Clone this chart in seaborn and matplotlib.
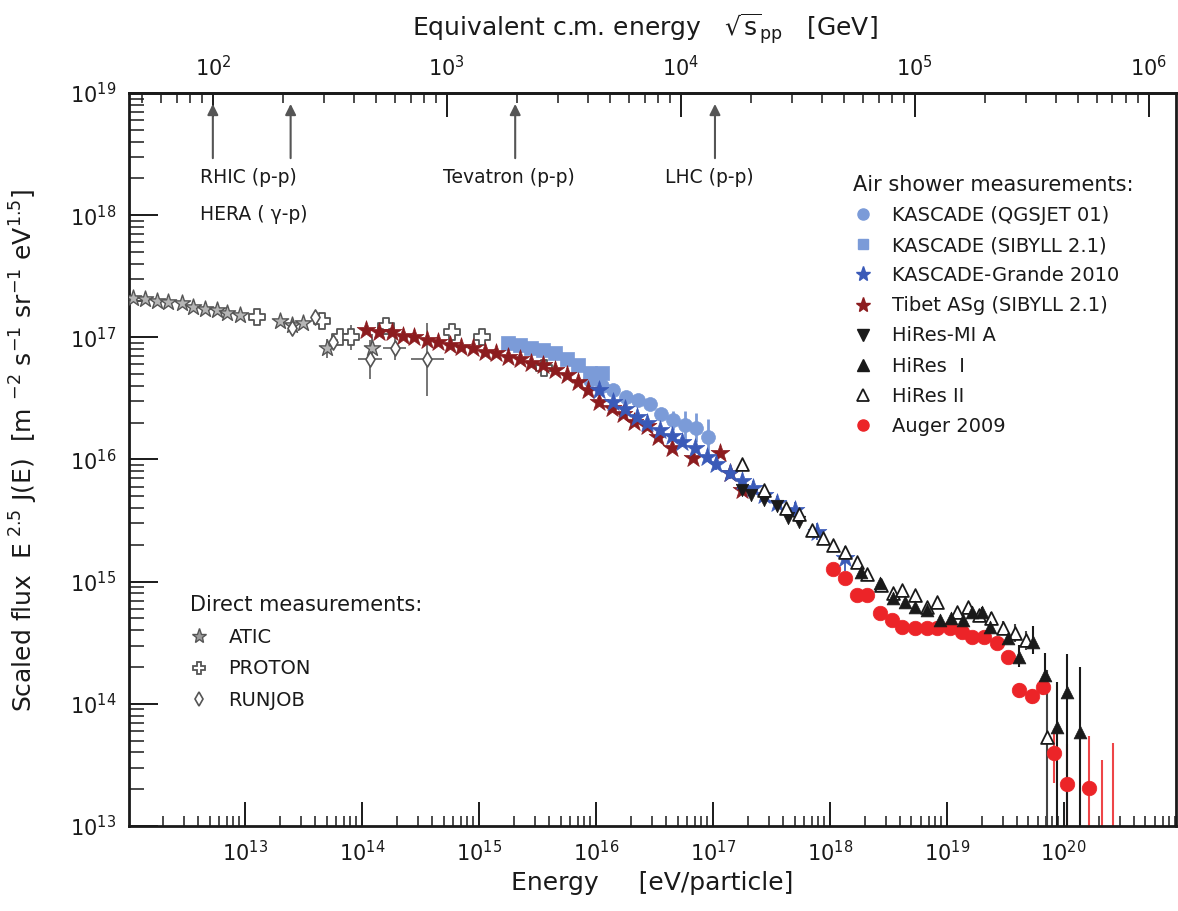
import matplotlib
matplotlib.use("Agg")
import matplotlib.pyplot as plt
from matplotlib.lines import Line2D
from matplotlib.ticker import FixedLocator, LogLocator, NullFormatter
import numpy as np
import pandas as pd
import seaborn as sns

# values: log10(E / eV) and log10(E^2.5 J(E))
# ---- direct measurements ----
atic_logE = [12.04, 12.15, 12.25, 12.34, 12.46, 12.56, 12.66, 12.76, 12.85, 12.96, 13.30, 13.40, 13.50, 13.70, 14.09]
atic_logF = [17.32, 17.31, 17.30, 17.29, 17.28, 17.25, 17.23, 17.22, 17.20, 17.18, 17.13, 17.10, 17.12, 16.91, 16.91]
atic_err = [0.02, 0.02, 0.02, 0.02, 0.02, 0.02, 0.02, 0.02, 0.02, 0.02, 0.03, 0.03, 0.03, 0.08, 0.12]

proton_logE = [13.10, 13.66, 13.81, 13.91, 14.21, 14.77, 15.03, 15.56]
proton_logF = [17.17, 17.13, 17.00, 17.00, 17.09, 17.04, 17.00, 16.75]
proton_err = [0.02, 0.03, 0.04, 0.10, 0.04, 0.03, 0.03, 0.03]

runjob_logE = [13.40, 13.60, 13.75, 14.07, 14.28, 14.56]
runjob_logF = [17.08, 17.17, 16.96, 16.82, 16.91, 16.82]
runjob_err = [0.03, 0.03, 0.04, 0.16, 0.10, 0.30]
runjob_xerr = [0.0, 0.0, 0.0, 0.10, 0.10, 0.14]

# ---- air shower measurements ----
tibet_logE = [14.04, 14.15, 14.26, 14.35, 14.45, 14.56, 14.65, 14.75, 14.85, 14.95, 15.05, 15.15, 15.25, 15.35, 15.45,
              15.55, 15.65, 15.75, 15.85, 15.93, 16.03, 16.14, 16.23, 16.33, 16.44, 16.53, 16.65, 16.83, 17.06, 17.15, 17.25]
tibet_logF = [17.06, 17.04, 17.04, 17.01, 17.00, 16.98, 16.96, 16.94, 16.92, 16.91, 16.88, 16.87, 16.84, 16.82, 16.79,
              16.77, 16.73, 16.69, 16.63, 16.57, 16.47, 16.42, 16.37, 16.31, 16.27, 16.18, 16.09, 16.01, 16.05, 15.89, 15.75]

kas_sib_logE = [15.25, 15.35, 15.45, 15.55, 15.65, 15.75, 15.85, 15.95, 16.05]
kas_sib_logF = [16.95, 16.94, 16.91, 16.90, 16.87, 16.82, 16.77, 16.71, 16.71]

kas_qgs_logE = [15.95, 16.05, 16.15, 16.26, 16.36, 16.46, 16.56, 16.66, 16.76, 16.86, 16.96]
kas_qgs_logF = [16.65, 16.60, 16.57, 16.51, 16.49, 16.45, 16.37, 16.32, 16.28, 16.26, 16.18]
kas_qgs_err = [0.03, 0.03, 0.03, 0.03, 0.04, 0.04, 0.05, 0.08, 0.12, 0.12, 0.15]

grande_logE = [16.03, 16.15, 16.25, 16.35, 16.44, 16.55, 16.65, 16.74, 16.85, 16.95, 17.03, 17.15, 17.25, 17.34, 17.44,
               17.55, 17.70, 17.89, 18.13]
grande_logF = [16.57, 16.47, 16.41, 16.35, 16.30, 16.24, 16.19, 16.14, 16.09, 16.02, 15.96, 15.89, 15.82, 15.77, 15.71,
               15.64, 15.59, 15.41, 15.19]
grande_err = [0.03, 0.03, 0.03, 0.03, 0.03, 0.03, 0.03, 0.04, 0.04, 0.04, 0.05, 0.05, 0.05, 0.05, 0.06,
              0.06, 0.06, 0.07, 0.10]

mia_logE = [17.25, 17.33, 17.44, 17.55, 17.64, 17.74]
mia_logF = [15.75, 15.71, 15.67, 15.62, 15.52, 15.49]

hires1_logE = [18.27, 18.43, 18.54, 18.64, 18.73, 18.83, 18.94, 19.04, 19.14, 19.22, 19.30, 19.37, 19.52, 19.62, 19.74,
               19.84, 19.94, 20.03, 20.14]
hires1_logF = [15.08, 14.99, 14.87, 14.83, 14.79, 14.77, 14.69, 14.70, 14.69, 14.75, 14.75, 14.63, 14.54, 14.38, 14.51,
               14.24, 13.81, 14.10, 13.77]
hires1_lo = [0.02, 0.02, 0.02, 0.02, 0.02, 0.02, 0.03, 0.03, 0.03, 0.03, 0.04, 0.04, 0.05, 0.08, 0.10,
             0.12, 1.50, 1.50, 1.50]
hires1_hi = [0.02, 0.02, 0.02, 0.02, 0.02, 0.02, 0.03, 0.03, 0.03, 0.03, 0.04, 0.04, 0.05, 0.10, 0.13,
             0.18, 0.37, 0.31, 0.53]

hires2_logE = [17.25, 17.44, 17.63, 17.74, 17.85, 17.94, 18.03, 18.13, 18.23, 18.32, 18.44, 18.54, 18.62, 18.73, 18.83,
               18.92, 19.09, 19.18, 19.28, 19.38, 19.48, 19.58, 19.68, 19.86]
hires2_logF = [15.96, 15.75, 15.60, 15.55, 15.42, 15.36, 15.30, 15.24, 15.16, 15.06, 14.97, 14.91, 14.93, 14.89, 14.79,
               14.83, 14.75, 14.79, 14.73, 14.70, 14.62, 14.58, 14.52, 13.73]
hires2_lo = [0.02, 0.02, 0.02, 0.02, 0.02, 0.02, 0.02, 0.02, 0.02, 0.02, 0.02, 0.02, 0.02, 0.02, 0.03,
             0.03, 0.03, 0.03, 0.04, 0.05, 0.06, 0.07, 0.08, 1.50]
hires2_hi = [0.02, 0.02, 0.02, 0.02, 0.02, 0.02, 0.02, 0.02, 0.02, 0.02, 0.02, 0.02, 0.02, 0.02, 0.03,
             0.03, 0.03, 0.03, 0.04, 0.05, 0.06, 0.07, 0.08, 0.55]

auger_logE = [18.03, 18.13, 18.23, 18.32, 18.43, 18.53, 18.62, 18.73, 18.83, 18.92, 19.03, 19.13, 19.22, 19.32, 19.43,
              19.52, 19.62, 19.73, 19.82, 19.92, 20.03, 20.22]
auger_logF = [15.10, 15.03, 14.89, 14.89, 14.74, 14.69, 14.63, 14.62, 14.62, 14.62, 14.62, 14.59, 14.55, 14.55, 14.50,
              14.38, 14.11, 14.06, 14.14, 13.60, 13.34, 13.31]
auger_lo = [0.02, 0.02, 0.02, 0.02, 0.02, 0.02, 0.02, 0.02, 0.02, 0.02, 0.02, 0.02, 0.02, 0.02, 0.02,
            0.03, 0.06, 0.06, 0.07, 0.25, 1.50, 1.50]
auger_hi = [0.02, 0.02, 0.02, 0.02, 0.02, 0.02, 0.02, 0.02, 0.02, 0.02, 0.02, 0.02, 0.02, 0.02, 0.02,
            0.03, 0.06, 0.06, 0.07, 0.19, 0.33, 0.43]
# Auger bins with only an upper error bar
auger_limit_logE = [20.33, 20.42]
auger_limit_logF = [13.54, 13.68]

# accelerators, sqrt(s) in GeV
collider_names = ["RHIC", "HERA", "Tevatron", "LHC"]
collider_sqrts = [100, 215, 1960, 14000]

# decades that carry a labelled tick
energy_decades = [13, 14, 15, 16, 17, 18, 19, 20]
flux_decades = [13, 14, 15, 16, 17, 18, 19]
sqrts_decades = [2, 3, 4, 5, 6]

M_P = 0.938e9  # proton mass, eV


def e_to_sqrts(e):
    return np.sqrt(2 * M_P * np.clip(e, 1e-30, None)) / 1e9


def sqrts_to_e(s):
    return (np.asarray(s) * 1e9) ** 2 / (2 * M_P)


def lin(vals):
    return 10.0 ** np.asarray(vals, dtype=float)


def asym(logF, lo, hi):
    f = lin(logF)
    return [f - f * 10.0 ** -np.asarray(lo), f * 10.0 ** np.asarray(hi) - f]


light_blue = "#7b9bd8"
grande_blue = "#3a5ab8"
tibet_red = "#8c1c1f"
auger_red = "#ec2428"
grey = "#6a6a6a"
ink = "#1a1a1a"

sns.set_style("ticks")
plt.rcParams["font.family"] = ["DejaVu Sans"]
plt.rcParams["text.color"] = ink
plt.rcParams["axes.labelcolor"] = ink
plt.rcParams["xtick.color"] = ink
plt.rcParams["ytick.color"] = ink

fig, ax = plt.subplots(figsize=(11.78, 9.11), dpi=100)
fig.subplots_adjust(left=0.1095, right=0.9983, bottom=0.0933, top=0.898)
ax.set_xscale("log")
ax.set_yscale("log")


def draw(logE, logF, marker, s, face, edge, lw=1.0, z=3):
    df = pd.DataFrame({"E": lin(logE), "F": lin(logF)})
    sns.scatterplot(data=df, x="E", y="F", marker=marker, s=s, color=face,
                    edgecolor=edge, linewidth=lw, ax=ax, zorder=z, legend=False)


# error bars first
ax.errorbar(lin(atic_logE), lin(atic_logF), yerr=asym(atic_logF, atic_err, atic_err),
            fmt="none", ecolor=grey, elinewidth=1.3, zorder=2)
ax.errorbar(lin(proton_logE), lin(proton_logF), yerr=asym(proton_logF, proton_err, proton_err),
            fmt="none", ecolor=grey, elinewidth=1.3, zorder=2)
rj_E = lin(runjob_logE)
ax.errorbar(rj_E, lin(runjob_logF), yerr=asym(runjob_logF, runjob_err, runjob_err),
            xerr=[rj_E - rj_E * 10.0 ** -np.asarray(runjob_xerr), rj_E * 10.0 ** np.asarray(runjob_xerr) - rj_E],
            fmt="none", ecolor=grey, elinewidth=1.3, zorder=2)
ax.errorbar(lin(kas_qgs_logE), lin(kas_qgs_logF), yerr=asym(kas_qgs_logF, kas_qgs_err, kas_qgs_err),
            fmt="none", ecolor=light_blue, elinewidth=2, zorder=2)
ax.errorbar(lin(grande_logE), lin(grande_logF), yerr=asym(grande_logF, grande_err, grande_err),
            fmt="none", ecolor=grande_blue, elinewidth=1.3, zorder=2)
ax.errorbar(lin(auger_logE), lin(auger_logF), yerr=asym(auger_logF, auger_lo, auger_hi),
            fmt="none", ecolor=auger_red, elinewidth=1.5, alpha=0.85, zorder=2)
ax.vlines(lin(auger_limit_logE), 1e12, lin(auger_limit_logF), color=auger_red, lw=1.5, alpha=0.85, zorder=2)
ax.errorbar(lin(hires1_logE), lin(hires1_logF), yerr=asym(hires1_logF, hires1_lo, hires1_hi),
            fmt="none", ecolor=ink, elinewidth=1.5, zorder=2)
ax.errorbar(lin(hires2_logE), lin(hires2_logF), yerr=asym(hires2_logF, hires2_lo, hires2_hi),
            fmt="none", ecolor="#444444", elinewidth=1.5, zorder=2)

# markers
draw(atic_logE, atic_logF, "*", 150, "#b5b5b5", "#555555", 1.0, 3)
draw(proton_logE, proton_logF, "P", 120, "white", "#555555", 1.3, 3)
draw(runjob_logE, runjob_logF, "d", 60, "white", "#555555", 1.2, 3)
draw(kas_sib_logE, kas_sib_logF, "s", 110, light_blue, light_blue, 0.5, 3)
draw(kas_qgs_logE, kas_qgs_logF, "o", 100, light_blue, light_blue, 0.5, 3)
draw(tibet_logE, tibet_logF, "*", 200, tibet_red, tibet_red, 0.5, 4)
draw(grande_logE, grande_logF, "*", 200, grande_blue, grande_blue, 0.5, 5)
draw(auger_logE, auger_logF, "o", 110, auger_red, auger_red, 0.5, 4)
draw(mia_logE, mia_logF, "v", 80, ink, ink, 0.5, 5)
draw(hires2_logE, hires2_logF, "^", 85, "white", ink, 1.3, 5)
draw(hires1_logE, hires1_logF, "^", 85, ink, ink, 0.5, 6)

ax.set_xlim(10 ** 12.01, 10 ** 20.96)
ax.set_ylim(1e13, 1e19)

ax.xaxis.set_major_locator(FixedLocator(lin(energy_decades)))
ax.yaxis.set_major_locator(FixedLocator(lin(flux_decades)))
for axis in (ax.xaxis, ax.yaxis):
    axis.set_minor_locator(LogLocator(base=10, subs=np.arange(2, 10), numticks=30))
    axis.set_minor_formatter(NullFormatter())

ax.tick_params(axis="x", which="major", direction="in", length=17, width=1.4, top=False, labelsize=15, pad=10)
ax.tick_params(axis="x", which="minor", direction="in", length=7, width=1.1, top=False)
ax.tick_params(axis="y", which="major", direction="in", length=21, width=1.4, right=False, labelsize=15, pad=9)
ax.tick_params(axis="y", which="minor", direction="in", length=11, width=1.1, right=False)
for sp in ax.spines.values():
    sp.set_linewidth(2.0)
    sp.set_color(ink)

ax.set_xlabel("Energy     [eV/particle]", fontsize=18)
ax.xaxis.set_label_coords(0.5, -0.062)
ax.set_ylabel(r"Scaled flux  E$^{\ 2.5}$ J(E)  [m $^{-2}$ s$^{-1}$ sr$^{-1}$ eV$^{1.5}$]", fontsize=18)
ax.yaxis.set_label_coords(-0.085, 0.513)

# top axis in equivalent centre-of-mass energy
secax = ax.secondary_xaxis("top", functions=(e_to_sqrts, sqrts_to_e))
secax.xaxis.set_major_locator(FixedLocator(lin(sqrts_decades)))
secax.xaxis.set_minor_locator(LogLocator(base=10, subs=np.arange(2, 10), numticks=30))
secax.xaxis.set_minor_formatter(NullFormatter())
secax.tick_params(axis="x", which="major", direction="in", length=17, width=1.4, labelsize=15, pad=9)
secax.tick_params(axis="x", which="minor", direction="in", length=7, width=1.1)
secax.spines["top"].set_linewidth(2.0)
ax.text(0.493, 1.086, r"Equivalent c.m. energy   $\sqrt{\mathrm{s}}_{\mathrm{pp}}$   [GeV]",
        transform=ax.transAxes, fontsize=18, ha="center", va="center")

# collider arrows
for name, s in zip(collider_names, collider_sqrts):
    e = sqrts_to_e(s)
    ax.annotate("", xy=(e, 0.985), xytext=(e, 0.911), xycoords=("data", "axes fraction"),
                textcoords=("data", "axes fraction"),
                arrowprops=dict(arrowstyle="-|>", color="#555555", lw=1.5, mutation_scale=16,
                                shrinkA=0, shrinkB=0))

ax.text(0.068, 0.884, "RHIC (p-p)", transform=ax.transAxes, fontsize=13.5, va="center")
ax.text(0.068, 0.834, "HERA ( \u03b3-p)", transform=ax.transAxes, fontsize=13.5, va="center")
ax.text(0.300, 0.884, "Tevatron (p-p)", transform=ax.transAxes, fontsize=13.5, va="center")
ax.text(0.512, 0.884, "LHC (p-p)", transform=ax.transAxes, fontsize=13.5, va="center")

# legends
ms = 8
air_handles = [
    Line2D([], [], ls="none", marker="o", ms=ms, mfc=light_blue, mec=light_blue, label="KASCADE (QGSJET 01)"),
    Line2D([], [], ls="none", marker="s", ms=ms - 1, mfc=light_blue, mec=light_blue, label="KASCADE (SIBYLL 2.1)"),
    Line2D([], [], ls="none", marker="*", ms=ms + 3, mfc=grande_blue, mec=grande_blue, label="KASCADE-Grande 2010"),
    Line2D([], [], ls="none", marker="*", ms=ms + 3, mfc=tibet_red, mec=tibet_red, label="Tibet ASg (SIBYLL 2.1)"),
    Line2D([], [], ls="none", marker="v", ms=ms, mfc=ink, mec=ink, label="HiRes-MI A"),
    Line2D([], [], ls="none", marker="^", ms=ms, mfc=ink, mec=ink, label="HiRes  I"),
    Line2D([], [], ls="none", marker="^", ms=ms, mfc="white", mec=ink, mew=1.3, label="HiRes II"),
    Line2D([], [], ls="none", marker="o", ms=ms, mfc=auger_red, mec=auger_red, label="Auger 2009"),
]
leg1 = ax.legend(handles=air_handles, title="Air shower measurements:", loc="upper left",
                 bbox_to_anchor=(0.6915, 0.888), frameon=False, fontsize=14, title_fontsize=15,
                 alignment="left", labelspacing=0.57, handlelength=1.0, handletextpad=1.0,
                 borderaxespad=0, borderpad=0)
ax.add_artist(leg1)

direct_handles = [
    Line2D([], [], ls="none", marker="*", ms=ms + 3, mfc="#9a9a9a", mec="#555555", label="ATIC"),
    Line2D([], [], ls="none", marker="P", ms=ms + 1, mfc="white", mec="#555555", mew=1.3, label="PROTON"),
    Line2D([], [], ls="none", marker="d", ms=ms - 1, mfc="white", mec="#555555", mew=1.2, label="RUNJOB"),
]
ax.legend(handles=direct_handles, title="Direct measurements:", loc="upper left",
          bbox_to_anchor=(0.058, 0.315), frameon=False, fontsize=14, title_fontsize=15,
          alignment="left", labelspacing=0.65, handlelength=1.0, handletextpad=1.0,
          borderaxespad=0, borderpad=0)

fig.savefig("out.png", dpi=100)
